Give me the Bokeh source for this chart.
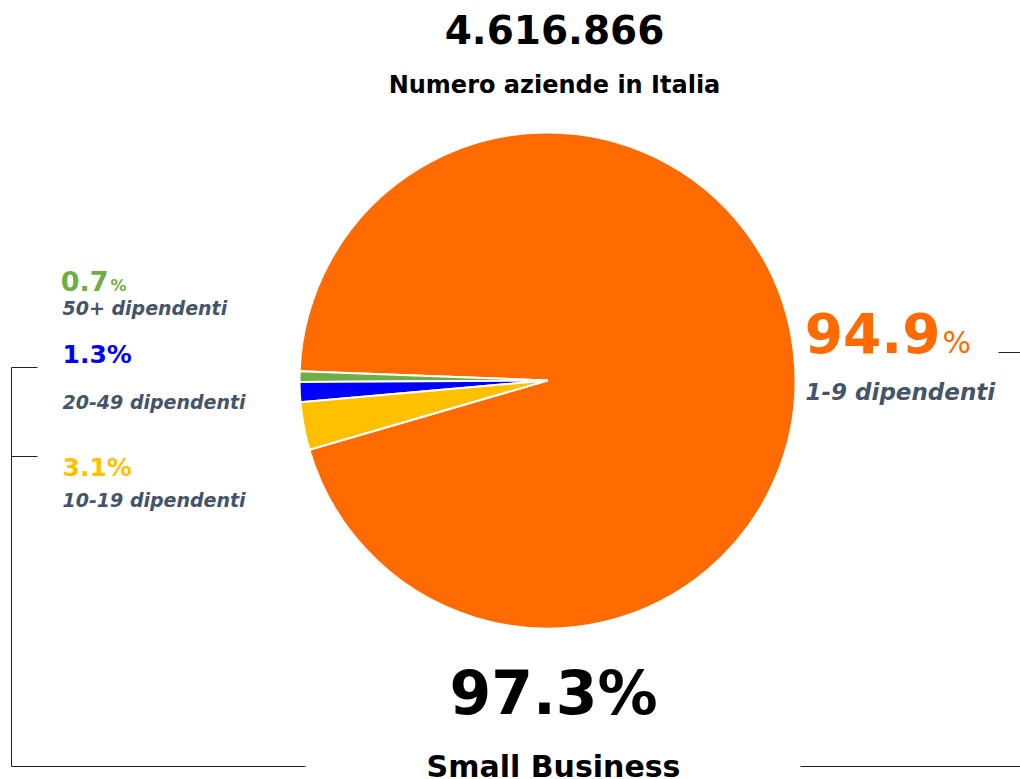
import numpy as np
from bokeh.plotting import figure
from bokeh.models import Range1d, ColumnDataSource
from bokeh.core.properties import value
from bokeh.embed import file_html
from bokeh.resources import INLINE

# ---- data ----
categories = ["1-9 dipendenti", "50+ dipendenti", "20-49 dipendenti", "10-19 dipendenti"]
shares = [94.9, 0.7, 1.3, 3.1]
colors = ["#FF6B00", "#70AD47", "#0000FF", "#FFC000"]
total_label = "4.616.866"
subtitle = "Numero aziende in Italia"
small_business_share = 97.3
small_business_label = "Small Business"

W, H = 1020, 779
FONT = value("DejaVu Sans")
SLATE = "#44546A"
K = 0.38  # empirical baseline correction

def Y(s):
    return H - s

p = figure(width=W, height=H, output_backend="svg", toolbar_location=None,
           x_range=Range1d(0, W), y_range=Range1d(0, H), min_border=0)
p.axis.visible = False
p.grid.visible = False
p.outline_line_color = None
p.background_fill_color = "white"
p.border_fill_color = "white"

# ---- pie ----
start_deg = 196.2
fr = np.array(shares) / np.sum(shares)
ends = np.deg2rad(start_deg) + np.cumsum(fr) * 2 * np.pi
starts = np.concatenate([[np.deg2rad(start_deg)], ends[:-1]])
src = ColumnDataSource(dict(cat=categories, share=shares, color=colors,
                            start=starts, end=ends))
p.wedge(x=547, y=Y(380), radius=248, start_angle="start", end_angle="end",
        fill_color="color", line_color="white", line_width=2, source=src)

def fmt(v):
    return f"{v:.1f}"

def txt(x, base, s, size, color, style="bold", align="left"):
    p.text(x=[x], y=[Y(base - K * size)], text=[s], text_font=FONT,
           text_font_size=f"{size}px", text_font_style=style, text_align=align,
           text_baseline="alphabetic", text_color=color)

# ---- titles ----
txt(554, 44, total_label, 39, "black", align="center")
txt(554, 94, subtitle, 24, "black", align="center")

# ---- 94.9% right label ----
txt(940, 353, fmt(shares[0]), 55, colors[0], align="right")
txt(942, 353, "%", 30, colors[0], style="normal")
txt(805, 400, categories[0], 23, SLATE, style="bold italic")

# ---- left labels ----
txt(108, 291, fmt(shares[1]), 27, colors[1], align="right")
txt(110, 291, "%", 16, colors[1])
txt(62, 315, categories[1], 19, SLATE, style="bold italic")

txt(62, 363, fmt(shares[2]) + "%", 25, colors[2])
txt(62, 409, categories[2], 19, SLATE, style="bold italic")

txt(62, 476, fmt(shares[3]) + "%", 25, colors[3])
txt(62, 507, categories[3], 19, SLATE, style="bold italic")

# ---- bottom ----
txt(553, 715, fmt(small_business_share) + "%", 60, "black", align="center")
txt(553, 777, small_business_label, 30, "black", align="center")

# ---- bracket lines ----
LC = "#222222"
p.segment(x0=[998, 11, 11, 11, 11, 800], y0=[Y(352), Y(367), Y(367), Y(456), Y(766), Y(766)],
          x1=[1020, 11, 37, 37, 305, 1020], y1=[Y(352), Y(766), Y(367), Y(456), Y(766), Y(766)],
          line_color=LC, line_width=1)

open("out.html", "w").write(file_html(p, INLINE))
